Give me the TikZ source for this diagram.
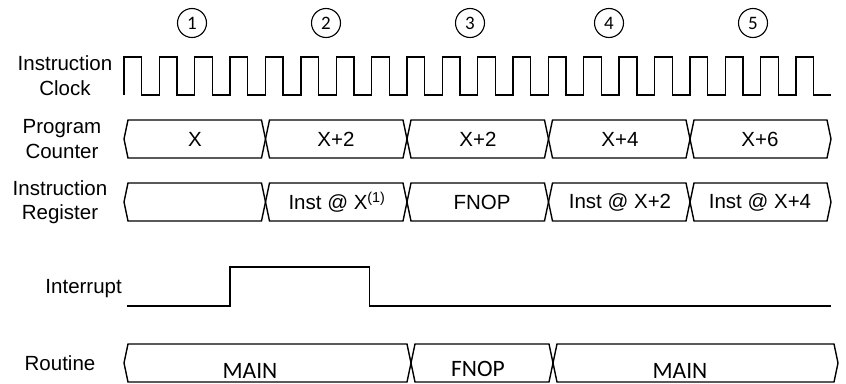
\documentclass[tikz,border=0pt]{standalone}
\usepackage{fontspec}
\setmainfont{Liberation Sans}
\newfontfamily\calib{Carlito}
\begin{document}
\begin{tikzpicture}[x=1pt,y=-1pt,
  sig/.style={line width=1.4pt, line join=miter},
  lbl/.style={font=\fontsize{20.5}{24.5}\selectfont, align=center, inner sep=0pt},
  bustxt/.style={font=\fontsize{20.5}{24}\selectfont, inner sep=0pt},
  routxt/.style={font=\calib\fontsize{23.5}{26}\selectfont, inner sep=0pt, anchor=base, text depth=0pt},
  cyc/.style={circle, draw, line width=1.1pt, minimum size=29pt, inner sep=0pt, font=\calib\fontsize{19}{20}\selectfont}]
\useasboundingbox (0,0) rectangle (846,383);
\def\p{35.368}
% cycle markers
\node[cyc] (c1) at (192,23) {1};
\node[cyc] (c2) at (326,23) {2};
\node[cyc] (c3) at (470,23) {3};
\node[cyc] (c4) at (609,23) {4};
\node[cyc] (c5) at (753,23) {5};
% labels
\node[lbl] (lclk) at (65,75.5) {Instruction\\Clock};
\node[lbl] (lpc) at (62,139) {Program\\Counter};
\node[lbl] (lir) at (60,202) {Instruction\\Register};
\node[lbl, anchor=east] (lint) at (122,288.5) {Interrupt};
\node[lbl] (lrou) at (60,363.5) {Routine};
% clock
\draw[sig] (124,95) -- (124,57)
  \foreach \k in {0,...,19} {
    -- ({124+\k*\p+\p/2},57) -- ({124+\k*\p+\p/2},95) -- ({124+(\k+1)*\p},95)
    \ifnum\k<19 -- ({124+(\k+1)*\p},57)\fi
  };
% bus helper
\newcommand\busseg[4]{% a b center halfheight
  \draw[sig] (#1,#3) -- ({#1+4},{#3-#4}) -- ({#2-4},{#3-#4}) -- (#2,#3) -- ({#2-4},{#3+#4}) -- ({#1+4},{#3+#4}) -- cycle;}
% program counter
\busseg{124}{265.5}{139}{19}
\busseg{265.5}{407}{139}{19}
\busseg{407}{548.5}{139}{19}
\busseg{548.5}{690}{139}{19}
\busseg{690}{831}{139}{19}
\node[bustxt] (pc1) at (195,139) {X};
\node[bustxt] (pc2) at (336,139) {X+2};
\node[bustxt] (pc3) at (478,139) {X+2};
\node[bustxt] (pc4) at (620,139) {X+4};
\node[bustxt] (pc5) at (760,139) {X+6};
% instruction register
\busseg{124}{265.5}{202}{19}
\busseg{265.5}{407}{202}{19}
\busseg{407}{548.5}{202}{19}
\busseg{548.5}{690}{202}{19}
\busseg{690}{831}{202}{19}
\node[bustxt] (ir2) at (337,202) {Inst @ X\textsuperscript{(1)}};
\node[bustxt] (ir3) at (482,202) {FNOP};
\node[bustxt] (ir4) at (620,202) {Inst @ X+2};
\node[bustxt] (ir5) at (760,202) {Inst @ X+4};
% interrupt
\draw[sig] (127,306) -- (230,306) -- (230,267) -- (369.5,267) -- (369.5,306) -- (831,306);
% routine
\busseg{124}{411}{363}{19}
\busseg{411}{553}{363}{19}
\busseg{553}{838}{363}{19}
\node[routxt] (r1) at (250,378) {MAIN};
\node[routxt] (r2) at (478,376) {FNOP};
\node[routxt] (r3) at (680,378) {MAIN};
\end{tikzpicture}
\end{document}
